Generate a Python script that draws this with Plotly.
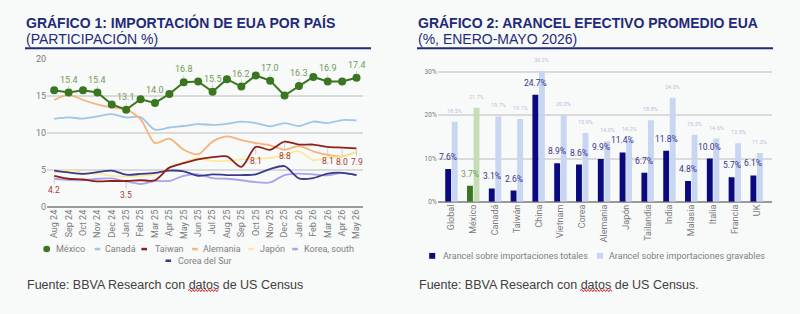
import plotly.graph_objects as go

# ---------------- DATA ----------------
months = ["Aug 24", "Sep 24", "Oct 24", "Nov 24", "Dec 24", "Jan 25", "Feb 25", "Mar 25",
          "Apr 25", "May 25", "Jun 25", "Jul 25", "Aug 25", "Sep 25", "Oct 25", "Nov 25",
          "Dec 25", "Jan 26", "Feb 26", "Mar 26", "Apr 26", "May 26"]

mexico = [15.7, 15.4, 15.7, 15.4, 13.8, 13.1, 14.5, 14.0, 15.2, 16.8, 16.9, 15.5,
          17.2, 16.2, 17.7, 17.0, 15.0, 16.3, 17.5, 16.9, 16.9, 17.4]
canada = [11.85, 12.05, 11.9, 12.2, 12.5, 12.05, 12.1, 10.4, 10.7, 10.9, 11.15, 11.05,
          11.2, 11.5, 11.3, 10.85, 11.3, 10.9, 11.5, 11.3, 11.7, 11.65]
taiwan = [4.2, 3.8, 3.7, 3.45, 3.5, 3.5, 3.6, 3.6, 5.3, 5.9, 6.4, 6.7,
          6.8, 5.4, 8.1, 7.7, 8.8, 8.4, 8.4, 8.1, 8.0, 7.9]
alemania = [14.4, 15.1, 14.4, 13.8, 13.4, 13.1, 11.8, 8.6, 9.2, 7.7, 7.1, 8.8,
            9.5, 9.0, 8.6, 8.3, 7.7, 8.2, 7.5, 7.0, 6.8, 7.4]
japon = [4.6, 5.0, 4.6, 4.5, 4.2, 4.1, 4.2, 4.4, 5.3, 6.0, 6.6, 6.2,
         6.2, 6.4, 6.5, 6.6, 7.0, 7.5, 6.3, 6.7, 6.7, 7.4]
korea_south = [3.8, 3.65, 3.6, 3.8, 3.85, 3.45, 3.1, 3.5, 3.5, 4.2, 4.4, 3.9,
               3.8, 3.6, 3.35, 3.3, 4.3, 4.5, 4.4, 4.25, 4.6, 4.3]
corea_sur = [4.9, 4.65, 4.45, 4.7, 4.9, 4.35, 4.45, 4.6, 4.9, 4.8, 4.2, 4.4,
             4.3, 4.3, 4.4, 5.1, 5.5, 3.85, 3.9, 4.5, 4.6, 4.3]

mexico_label_idx = [1, 3, 5, 7, 9, 11, 13, 15, 17, 19, 21]
taiwan_label_idx = [0, 5, 14, 16, 19, 20, 21]

countries = ["Global", "México", "Canadá", "Taiwán", "China", "Vietnam", "Corea", "Alemania",
             "Japón", "Tailandia", "India", "Malasia", "Italia", "Francia", "UK"]
totales = [7.6, 3.7, 3.1, 2.6, 24.7, 8.9, 8.6, 9.9, 11.4, 6.7, 11.8, 4.8, 10.0, 5.7, 6.1]
gravables = [18.5, 21.7, 19.7, 19.1, 30.2, 20.0, 15.9, 14.0, 14.2, 18.8, 24.0, 15.5, 14.6, 13.5, 11.3]

# ---------------- HELPERS ----------------
W, H = 800, 314


def fx(p):
    return p / W


def fy(p):
    return 1 - p / H


BG = "#f8f9f9"
NAVY_T = "#1f2a78"
GRID = "#dadada"
BASE = "#9a9a9a"
TICK = "#7a7a7a"
LEG = "#808080"

fig = go.Figure()

line_series = [
    ("Canadá", canada, "#9fc5e8"),
    ("Alemania", alemania, "#f5b47a"),
    ("Japón", japon, "#fde89c"),
    ("Korea, south", korea_south, "#a7a3ee"),
    ("Corea del Sur", corea_sur, "#3b3a8f"),
    ("Taiwan", taiwan, "#8e1f1a"),
]
for name, vals, col in line_series:
    fig.add_trace(go.Scatter(x=months, y=vals, name=name, mode="lines",
                             line=dict(color=col, width=1.8, shape="spline", smoothing=0.8),
                             xaxis="x", yaxis="y", showlegend=False, hoverinfo="skip"))

fig.add_trace(go.Scatter(x=months, y=mexico, name="México", mode="lines+markers",
                         line=dict(color="#3a761f", width=2),
                         marker=dict(size=8, color="#3a761f"),
                         xaxis="x", yaxis="y", showlegend=False))

tot_colors = ["#3a761f" if c == "México" else "#0a0a80" for c in countries]
grav_colors = ["#c6ddb6" if c == "México" else "#c8d6f2" for c in countries]

fig.add_trace(go.Bar(x=countries, y=totales, name="Arancel sobre importaciones totales",
                     marker=dict(color=tot_colors, line=dict(width=0)),
                     xaxis="x2", yaxis="y2", showlegend=False))
fig.add_trace(go.Bar(x=countries, y=gravables, name="Arancel sobre importaciones gravables",
                     marker=dict(color=grav_colors, line=dict(width=0)),
                     xaxis="x2", yaxis="y2", showlegend=False))

ann = []
shapes = []

# data labels chart 1
for i in mexico_label_idx:
    ann.append(dict(x=months[i], y=mexico[i], xref="x", yref="y", text=f"{mexico[i]:.1f}",
                    showarrow=True, arrowhead=0, arrowwidth=0.8, arrowcolor="#c4c4c4",
                    ax=0, ay=-7, standoff=4, borderpad=0, yanchor="bottom",
                    font=dict(size=9, color="#6f9a55", family="Roboto")))
for i in taiwan_label_idx:
    ann.append(dict(x=months[i], y=taiwan[i], xref="x", yref="y", text=f"{taiwan[i]:.1f}",
                    showarrow=True, arrowhead=0, arrowwidth=0.8, arrowcolor="#c4c4c4",
                    ax=0, ay=8, standoff=1, borderpad=0, yanchor="top",
                    font=dict(size=8.5, color="#a83a36", family="Roboto")))

# data labels chart 2
for i, c in enumerate(countries):
    ann.append(dict(x=c, y=totales[i], xref="x2", yref="y2", text=f"{totales[i]:.1f}%",
                    showarrow=False, xshift=-3.3, yshift=5, yanchor="bottom",
                    font=dict(size=8.5, family="Roboto",
                              color="#6f9a55" if c == "México" else "#35358f")))
    ann.append(dict(x=c, y=gravables[i], xref="x2", yref="y2", text=f"{gravables[i]:.1f}%",
                    showarrow=False, xshift=3.3, yshift=6, yanchor="bottom",
                    font=dict(size=5.5, family="Roboto",
                              color="#b9cfa9" if c == "México" else "#b7c2de")))

# titles
TF = "Liberation Sans, Arial"
ann += [
    dict(x=fx(25), y=fy(19.5), xref="paper", yref="paper", xanchor="left", yanchor="middle",
         text="<b>GRÁFICO 1: IMPORTACIÓN DE EUA POR PAÍS</b>", showarrow=False, borderpad=0,
         font=dict(family=TF, size=14, color=NAVY_T)),
    dict(x=fx(25), y=fy(36.2), xref="paper", yref="paper", xanchor="left", yanchor="middle",
         text="(PARTICIPACIÓN %)", showarrow=False, borderpad=0,
         font=dict(family=TF, size=14, color=NAVY_T)),
    dict(x=fx(417), y=fy(19.5), xref="paper", yref="paper", xanchor="left", yanchor="middle",
         text="<b>GRÁFICO 2: ARANCEL EFECTIVO PROMEDIO EUA</b>", showarrow=False, borderpad=0,
         font=dict(family=TF, size=14, color=NAVY_T)),
    dict(x=fx(417), y=fy(36.2), xref="paper", yref="paper", xanchor="left", yanchor="middle",
         text="(%, ENERO-MAYO 2026)", showarrow=False, borderpad=0,
         font=dict(family=TF, size=14, color=NAVY_T)),
    dict(x=fx(25), y=fy(289.3), xref="paper", yref="paper", xanchor="left", yanchor="middle",
         text="Fuente: BBVA Research con datos de US Census", showarrow=False,
         font=dict(family=TF, size=12.5, color="#404040")),
    dict(x=fx(417), y=fy(289.3), xref="paper", yref="paper", xanchor="left", yanchor="middle",
         text="Fuente: BBVA Research con datos de US Census.", showarrow=False,
         font=dict(family=TF, size=12.5, color="#404040")),
]
shapes += [
    dict(type="line", xref="paper", yref="paper", x0=fx(25), x1=fx(371), y0=fy(45.5), y1=fy(45.5),
         line=dict(color=NAVY_T, width=2)),
    dict(type="line", xref="paper", yref="paper", x0=fx(417), x1=fx(773), y0=fy(45.5), y1=fy(45.5),
         line=dict(color=NAVY_T, width=2)),
]


def squiggle(x0, x1, y):
    path = f"M {fx(x0):.5f} {fy(y):.5f}"
    x = x0
    up = True
    while x < x1:
        x += 1.6
        path += f" L {fx(x):.5f} {fy(y + (-1.1 if up else 1.1)):.5f}"
        up = not up
    return path


for (a, b) in [(188, 218), (580, 611)]:
    shapes.append(dict(type="path", xref="paper", yref="paper", path=squiggle(a, b, 295),
                       line=dict(color="#d92020", width=1)))

# manual legends
LY1, LY2, LY3 = 252.3, 264.3, 259.3
leg1 = [
    ("dot", 46.7, "#3a761f", "México", 54.3, LY1),
    ("dash", 97.5, "#9fc5e8", "Canadá", 103.3, LY1),
    ("dash", 144.2, "#8e1f1a", "Taiwan", 152.7, LY1),
    ("dash", 195.0, "#f5b47a", "Alemania", 201.0, LY1),
    ("dash", 250.8, "#fde89c", "Japón", 257.7, LY1),
    ("dash", 295.0, "#a7a3ee", "Korea, south", 302.3, LY1),
    ("dash", 168.3, "#3b3a8f", "Corea del Sur", 176.0, LY2),
    ("sq", 432.2, "#0a0a80", "Arancel sobre importaciones totales", 440.7, LY3),
    ("sq", 600.0, "#c8d6f2", "Arancel sobre importaciones gravables", 606.7, LY3),
]
for kind, cx, col, txt, tx, ly in leg1:
    if kind == "dot":
        shapes.append(dict(type="circle", xref="paper", yref="paper",
                           x0=fx(cx - 3.4), x1=fx(cx + 3.4), y0=fy(ly + 3.4), y1=fy(ly - 3.4),
                           fillcolor=col, line=dict(width=0)))
    elif kind == "dash":
        shapes.append(dict(type="line", xref="paper", yref="paper",
                           x0=fx(cx - 2.8), x1=fx(cx + 2.8), y0=fy(ly), y1=fy(ly),
                           line=dict(color=col, width=2.5)))
    else:
        shapes.append(dict(type="rect", xref="paper", yref="paper",
                           x0=fx(cx - 3), x1=fx(cx + 3), y0=fy(ly + 3), y1=fy(ly - 3),
                           fillcolor=col, line=dict(width=0)))
    ann.append(dict(x=fx(tx), y=fy(ly), xref="paper", yref="paper", xanchor="left",
                    yanchor="middle", text=txt, showarrow=False,
                    font=dict(family="Roboto", size=9, color=LEG)))

fig.update_layout(
    width=W, height=H, margin=dict(l=0, r=0, t=0, b=0, pad=0),
    paper_bgcolor=BG, plot_bgcolor=BG,
    barmode="group", bargap=0.4, bargroupgap=0.1,
    font=dict(family="Roboto", color=TICK),
    showlegend=False,
    xaxis=dict(domain=[fx(47), fx(363)], anchor="y", type="category", range=[-0.5, 21.45],
               tickangle=-90, tickfont=dict(size=9, color=TICK), showgrid=False, ticks="",
               showline=False, zeroline=False),
    yaxis=dict(domain=[fy(209), fy(55.6)], anchor="x", range=[0, 20.05],
               tickvals=[0, 5, 10, 15, 20], gridcolor=GRID, gridwidth=1.5,
               zeroline=True, zerolinecolor=BASE, zerolinewidth=1.5,
               tickfont=dict(size=9, color=TICK), ticks="", showline=False),
    xaxis2=dict(domain=[fx(437.7), fx(771.7)], anchor="y2", type="category",
                range=[-0.63, 14.69], tickangle=-90, tickfont=dict(size=9, color=TICK),
                showgrid=False, ticks="", showline=False, zeroline=False),
    yaxis2=dict(domain=[fy(203.7), fy(67.6)], anchor="x2", range=[0, 30.5],
                tickvals=[0, 10, 20, 30], ticktext=["0%", "10%", "20%", "30%"],
                gridcolor=GRID, gridwidth=1.5, zeroline=True, zerolinecolor=BASE,
                zerolinewidth=1.5, tickfont=dict(size=6.5, color=TICK), ticks="",
                showline=False),
    annotations=ann,
    shapes=shapes,
)

fig.write_html("out.html")
